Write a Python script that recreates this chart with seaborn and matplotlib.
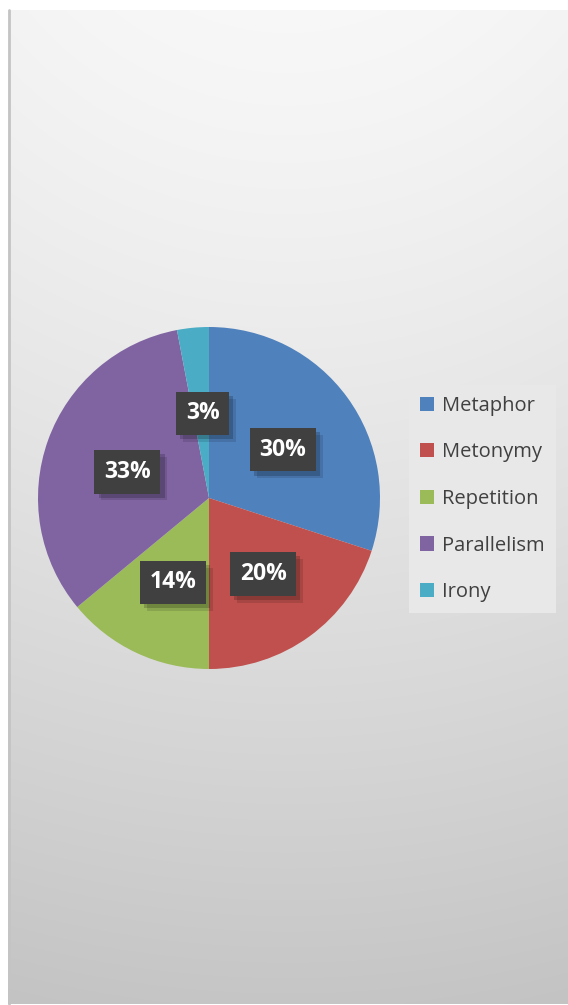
import numpy as np
import matplotlib
matplotlib.use('Agg')
import matplotlib.pyplot as plt
import seaborn as sns
from matplotlib.patches import Patch
import matplotlib.patheffects as pe
from matplotlib.transforms import ScaledTranslation

# data
categories = ['Metaphor', 'Metonymy', 'Repetition', 'Parallelism', 'Irony']
shares = [30, 20, 14, 33, 3]
colours = ['#4F81BD', '#C0504D', '#9BBB59', '#8064A2', '#4BACC6']

sns.set_theme(style='white')
plt.rcParams['font.family'] = ['Open Sans', 'DejaVu Sans']
palette = sns.color_palette(colours)

W, H = 568, 1005
fig = plt.figure(figsize=(W / 100, H / 100), dpi=100)
fig.patch.set_facecolor('white')

# gradient background panel (radial-ish, light at top, grey at bottom)
bg = fig.add_axes([8 / W, 1 - 1004 / H, (W - 8) / W, (1004 - 10) / H])
ys, xs = np.mgrid[0:1:400j, 0:1:200j]
d = np.sqrt(((xs - 0.5) * 0.6) ** 2 + (ys + 0.25) ** 2)
d = (d - d.min()) / (d.max() - d.min())
shade = 0.97 - 0.205 * d ** 1.3
bg.imshow(np.dstack([shade, shade, shade]), aspect='auto', extent=(0, 1, 1, 0),
          interpolation='bicubic')
bg.set_axis_off()
fig.add_artist(plt.Line2D([9 / W, 9 / W], [1 - 1004 / H, 1 - 10 / H],
                          transform=fig.transFigure, color='#c4c4c4', lw=2))

# pie
cx, cy, r = 209, 498, 171
ax = fig.add_axes([(cx - r) / W, 1 - (cy + r) / H, 2 * r / W, 2 * r / H])
wedges, texts, autotexts = ax.pie(
    shares, colors=palette, startangle=90, counterclock=False,
    autopct='%1.0f%%', pctdistance=0.52,
    wedgeprops=dict(linewidth=0),
    textprops=dict(color='white', fontsize=16.5, fontweight='bold'))
ax.set_xlim(-1, 1)
ax.set_ylim(-1, 1)
shift = ScaledTranslation(2 / 100, -4 / 100, fig.dpi_scale_trans)
for t in autotexts:
    t.set_transform(ax.transData + shift)
    t.set_bbox(dict(boxstyle='square,pad=0.42', facecolor='#404040',
                    edgecolor='none'))
    t.get_bbox_patch().set_path_effects([
        pe.SimplePatchShadow(offset=(5, -5), shadow_rgbFace='#000000', alpha=0.12),
        pe.SimplePatchShadow(offset=(3, -3), shadow_rgbFace='#000000', alpha=0.18),
        pe.Normal()])

# legend
handles = [Patch(facecolor=c, edgecolor='none') for c in palette]
leg = fig.legend(handles, categories, loc='center left',
                 bbox_to_anchor=(409 / W, 1 - 499 / H),
                 fontsize=14.5, frameon=True, fancybox=False,
                 handlelength=0.7, handleheight=0.7, handletextpad=0.4,
                 labelspacing=1.32, borderpad=0.55, borderaxespad=0)
leg.get_frame().set_facecolor('#e8e8e8')
leg.get_frame().set_edgecolor('none')
leg.get_frame().set_alpha(1)
for txt in leg.get_texts():
    txt.set_color('#404040')

fig.savefig('out.png', dpi=100)
